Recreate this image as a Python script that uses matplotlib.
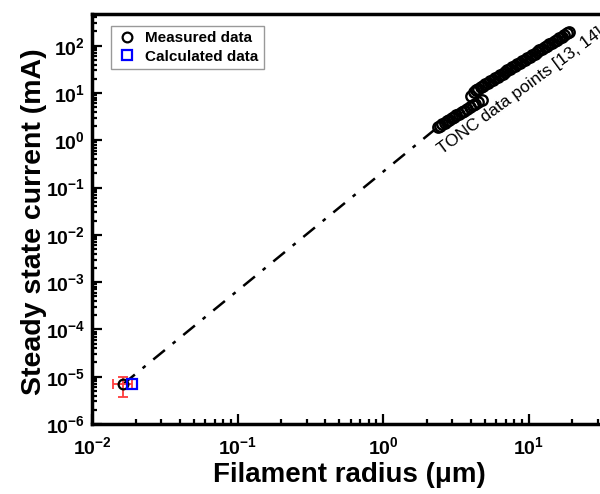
import numpy as np
import matplotlib.pyplot as plt
from matplotlib.ticker import LogLocator, FuncFormatter, NullFormatter

plt.rcParams['font.family'] = ['Liberation Sans', 'DejaVu Sans']
plt.rcParams['mathtext.fontset'] = 'custom'
plt.rcParams['mathtext.rm'] = 'Liberation Sans'
plt.rcParams['mathtext.bf'] = 'Liberation Sans:bold'

# measured point (this work) with error bars
meas_x = [0.0164]
meas_y = [7.0e-6]
meas_xerr = [[0.0025], [0.0025]]
meas_yerr = [[3.2e-6], [3.0e-6]]

# calculated point
calc_x = [0.0189]
calc_y = [7.0e-6]

# TONC data points, lower branch
tonc1_x = [2.40, 2.48, 2.56, 2.65, 2.75, 2.85, 2.96, 3.08, 3.20, 3.33,
           3.47, 3.62, 3.78, 3.95, 4.13, 4.32, 4.52, 4.77]
tonc1_y = [1.94, 2.05, 2.19, 2.33, 2.52, 2.68, 2.90, 3.10, 3.36, 3.60,
           3.92, 4.22, 4.62, 4.98, 5.45, 5.90, 6.45, 7.15]
# TONC data points, upper branch
tonc2_x = [4.05, 4.20, 4.35, 4.50, 4.68, 4.86, 5.05, 5.25, 5.46, 5.68,
           5.90, 6.14, 6.38, 6.63, 6.90, 7.17, 7.45, 7.75, 8.06, 8.38,
           8.71, 9.06, 9.42, 9.79, 10.2, 10.6, 11.0, 11.4, 11.9, 12.4,
           12.9, 13.4, 13.9, 14.5, 15.1, 15.7, 16.3, 16.9, 17.6, 18.3, 19.0]
tonc2_y = [8.5, 10.5, 11.4, 12.2, 13.2, 14.1, 15.2, 16.5, 17.7, 19.0,
           20.5, 22.3, 23.8, 25.8, 27.6, 29.9, 32.2, 34.6, 37.5, 40.2,
           43.5, 46.7, 50.5, 54.2, 58.8, 63.0, 68.0, 72.5, 79.2, 85.3,
           92.4, 99.0, 106, 115, 124, 134, 145, 155, 167, 181, 194]

fig = plt.figure(figsize=(6, 4.94), dpi=100)
ax = fig.add_axes([92/600, 70/494, 582/600, 410/494])
ax.set_xscale('log')
ax.set_yscale('log')
ax.set_xlim(1e-2, 1e2)
ax.set_ylim(1e-6, 10**2.67)

# dash-dot guide line from measured point to first TONC point
ax.plot([meas_x[0], tonc1_x[0]], [meas_y[0], tonc1_y[0]], color='black',
        lw=1.8, dashes=[6, 4, 1.5, 4], zorder=1)

ax.plot(tonc1_x, tonc1_y, 'o', ms=7.5, mfc='none', mec='black', mew=1.7)
ax.plot(tonc2_x, tonc2_y, 'o', ms=7.5, mfc='none', mec='black', mew=1.7)

ax.errorbar(meas_x, meas_y, xerr=meas_xerr, yerr=meas_yerr, fmt='none',
            ecolor='#ff3c3c', elinewidth=1.3, capsize=3.5, capthick=1.3, zorder=2)
ax.plot(meas_x, meas_y, 'o', ms=7, mfc='none', mec='black', mew=1.6,
        label='Measured data', zorder=3)
ax.plot(calc_x, calc_y, 's', ms=6.5, mfc='none', mec='#0000ff', mew=1.6,
        label='Calculated data', zorder=3)

ax.text(2.55, 0.50, 'TONC data points [13, 14]', rotation=36.5,
        fontsize=12.5, ha='left', va='baseline', rotation_mode='anchor')

def fmt(v, pos):
    e = int(np.round(np.log10(v)))
    return r'$\mathbf{10^{%d}}$' % e

def fmt_x(v, pos):
    # the 10^2 label lies outside the cropped figure
    if v > 50:
        return ''
    return fmt(v, pos)

for axis in (ax.xaxis, ax.yaxis):
    axis.set_major_locator(LogLocator(base=10, numticks=20))
    axis.set_minor_locator(LogLocator(base=10, subs=np.arange(2, 10), numticks=20))
    axis.set_minor_formatter(NullFormatter())
ax.xaxis.set_major_formatter(FuncFormatter(fmt_x))
ax.yaxis.set_major_formatter(FuncFormatter(fmt))

ax.tick_params(which='both', direction='in', top=False, right=False, width=1.6)
ax.tick_params(which='major', length=7, labelsize=14)
ax.tick_params(which='minor', length=3.5)
ax.tick_params(axis='x', pad=9)
ax.tick_params(axis='y', pad=5)

for s in ['left', 'bottom', 'top']:
    ax.spines[s].set_linewidth(2.5)
ax.spines['right'].set_visible(False)

ax.set_xlabel('Filament radius (\u03bcm)', fontsize=20, fontweight='bold')
ax.xaxis.set_label_coords(0.442, -0.092)
ax.set_ylabel('Steady state current (mA)', fontsize=20.5, fontweight='bold')
ax.yaxis.set_label_coords(-0.078, 0.493)

leg = ax.legend(loc='upper left', bbox_to_anchor=(0.019, 0.99), fancybox=False,
                edgecolor='#999999', framealpha=1, prop={'weight': 'bold', 'size': 11},
                handletextpad=0.5, borderpad=0.35, labelspacing=0.3, handlelength=1.4)
leg.get_frame().set_linewidth(1.0)

fig.savefig('out.png', dpi=100)
